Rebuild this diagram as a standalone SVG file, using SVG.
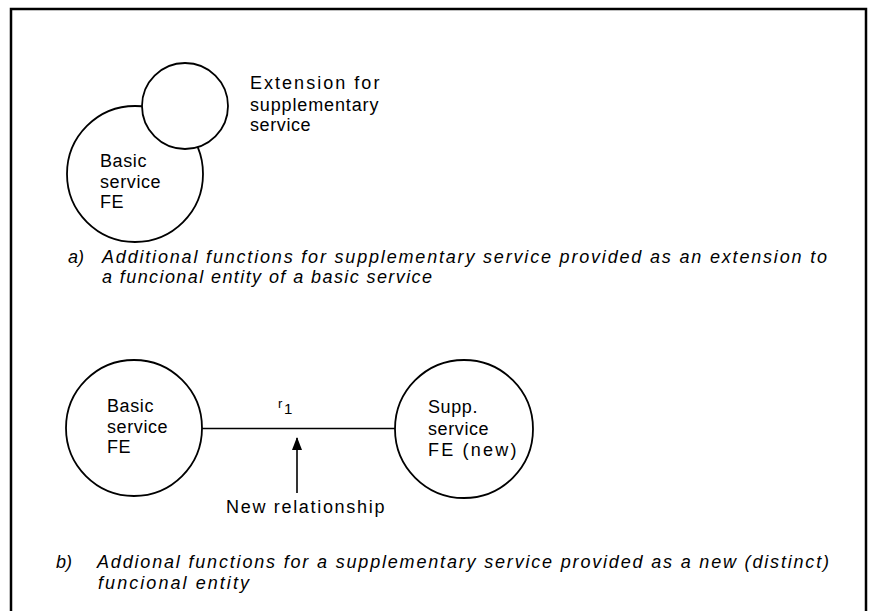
<svg xmlns="http://www.w3.org/2000/svg" width="871" height="611" viewBox="0 0 871 611">
<style>
.frame{fill:none;stroke:#000;stroke-width:2.5}
.node{fill:#fff;stroke:#000;stroke-width:1.8}
.lbl{font-family:"Liberation Sans",Arial,sans-serif;font-size:18px;letter-spacing:0.6px;fill:#000}
.cap{font-family:"Liberation Sans",Arial,sans-serif;font-size:18px;font-style:italic;fill:#000}
.conn{stroke:#000;stroke-width:1.6;fill:none}
</style>
<defs>
<marker id="ah" markerWidth="13" markerHeight="10" refX="12" refY="5" orient="auto" markerUnits="userSpaceOnUse" viewBox="0 0 13 10">
<path d="M0,0 L13,5 L0,10 Z" fill="#000"/>
</marker>
</defs>
<rect width="871" height="611" fill="#fff"/>
<g id="frame">
<path class="frame" d="M11,611 L11,9 L866,9 L866,611"/>
</g>
<g id="a-basic">
<circle class="node" cx="135" cy="174" r="68"/>
<text class="lbl" x="100" y="167">Basic</text>
<text class="lbl" x="100" y="188">service</text>
<text class="lbl" x="100" y="208">FE</text>
</g>
<g id="a-extension">
<circle class="node" cx="185" cy="106" r="43"/>
</g>
<g id="a-extension-label">
<text class="lbl" x="250" y="89" textLength="130" lengthAdjust="spacing">Extension for</text>
<text class="lbl" x="250" y="111" textLength="129" lengthAdjust="spacing">supplementary</text>
<text class="lbl" x="250" y="131">service</text>
</g>
<g id="caption-a">
<text class="cap" x="68" y="263">a)</text>
<text class="cap" x="102" y="263" textLength="725" lengthAdjust="spacing">Additional functions for supplementary service provided as an extension to</text>
<text class="cap" x="102" y="283" textLength="330" lengthAdjust="spacing">a funcional entity of a basic service</text>
</g>
<g id="b-basic">
<circle class="node" cx="134" cy="428" r="68"/>
<text class="lbl" x="107" y="412">Basic</text>
<text class="lbl" x="107" y="433">service</text>
<text class="lbl" x="107" y="453">FE</text>
</g>
<g id="b-supp">
<circle class="node" cx="464" cy="429" r="69"/>
<text class="lbl" x="428" y="413">Supp.</text>
<text class="lbl" x="428" y="435">service</text>
<text class="lbl" x="428" y="456" textLength="89" lengthAdjust="spacing">FE (new)</text>
</g>
<g id="connectors">
<line class="conn" x1="202" y1="428.5" x2="395" y2="428.5"/>
<line class="conn" x1="297" y1="493" x2="297" y2="438" marker-end="url(#ah)"/>
</g>
<g id="connector-labels">
<text class="lbl" x="278" y="408" style="font-size:13px;letter-spacing:0">r</text>
<text class="lbl" x="284" y="414" style="font-size:15px;letter-spacing:0">1</text>
<text class="lbl" x="226" y="513" textLength="159" lengthAdjust="spacing">New relationship</text>
</g>
<g id="caption-b">
<text class="cap" x="56" y="568">b)</text>
<text class="cap" x="97" y="568" textLength="732" lengthAdjust="spacing">Addional functions for a supplementary service provided as a new (distinct)</text>
<text class="cap" x="98" y="589" textLength="151" lengthAdjust="spacing">funcional entity</text>
</g>
</svg>
